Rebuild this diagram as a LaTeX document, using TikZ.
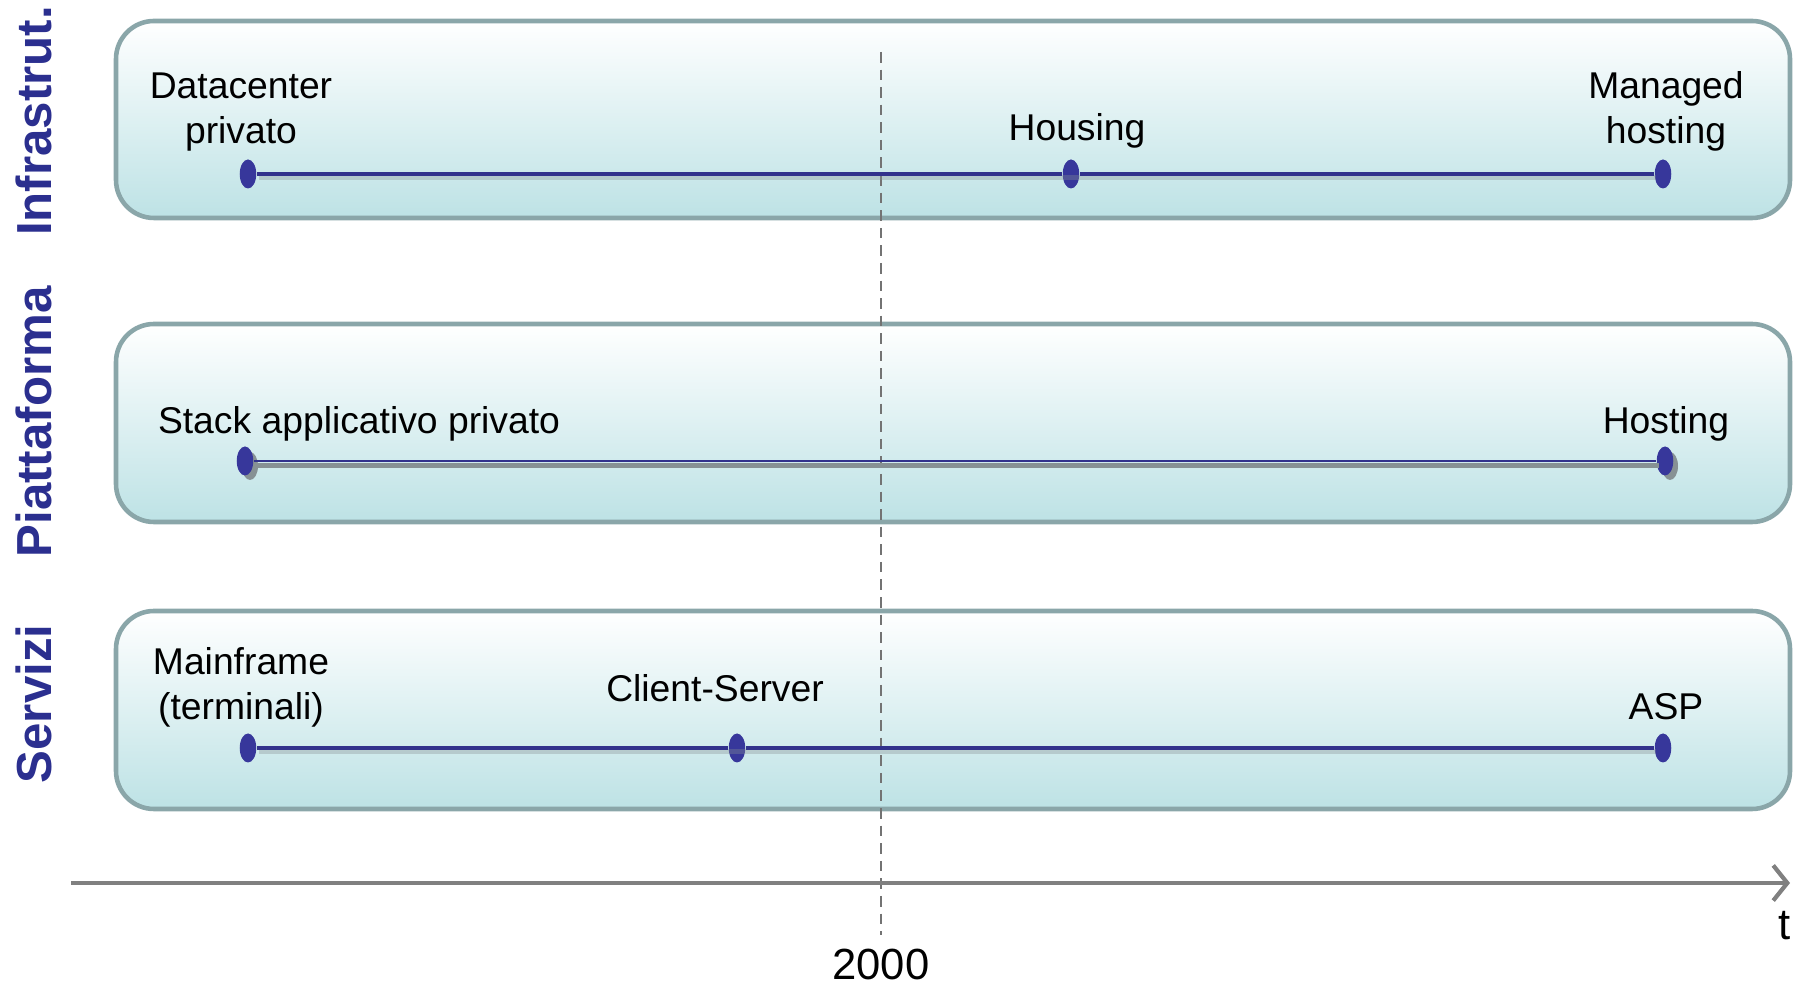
\documentclass[tikz,border=0pt]{standalone}
\usepackage{fontspec}
\setmainfont{Liberation Sans}
\usetikzlibrary{positioning,shapes.geometric,arrows.meta}

\definecolor{boxedge}{RGB}{138,166,169}
\definecolor{boxbot}{RGB}{189,226,229}
\definecolor{lineblue}{RGB}{50,50,140}
\definecolor{dotblue}{RGB}{55,55,155}
\definecolor{sideblue}{RGB}{43,47,143}
\definecolor{axisgray}{RGB}{128,128,128}
\definecolor{shadowgray}{RGB}{135,145,148}

\tikzset{
  layer/.style={draw=boxedge, line width=1.3pt, rounded corners=0.38cm,
    top color=white, bottom color=boxbot},
  dot/.style={ellipse, fill=dotblue, inner sep=0pt,
    minimum width=0.165cm, minimum height=0.29cm},
  tline/.style={draw=lineblue, line width=1.1pt},
  tshadow/.style={draw=shadowgray, line width=1.6pt, opacity=0.35},
  lbl/.style={font=\fontsize{10.6}{12.8}\selectfont, align=center, inner sep=0pt},
  axlbl/.style={font=\fontsize{12.4}{15}\selectfont, inner sep=0pt},
  side/.style={rotate=90, font=\fontsize{14}{16}\selectfont\bfseries,
    text=sideblue, inner sep=0pt},
}

\begin{document}
\begin{tikzpicture}[x=0.01cm, y=-0.01cm]
\useasboundingbox (0,0) rectangle (1802,986);

% the three layers
\path[layer] (116,21) rectangle (1790,218);
\path[layer] (116,324) rectangle (1790,522);
\path[layer] (116,611) rectangle (1790,809);

% side titles
\node[side] (infra) at (34,121) {Infrastrut.};
\node[side] (piatt) at (34,422) {Piattaforma};
\node[side] (serv) at (34,704) {Servizi};

% year 2000
\draw[axisgray!90!black, line width=0.5pt, dash pattern=on 3pt off 2pt] (881,52) -- (881,935);

% time axis
\coordinate (axs) at (71,883);
\coordinate (axe) at (1790,883);
\draw[axisgray, line width=1.4pt, -{Straight Barb[length=4pt,width=10pt,line width=1.2pt]}] (axs) -- (axe);
\node[axlbl] (tlab) at (1785,926) {t};
\node[axlbl] (year) at (881,964) {2000};

% Infrastruttura
\node[dot] (dc) at (248,174) {};
\node[dot] (hous) at (1071,174) {};
\node[dot] (mh) at (1663,174) {};
\draw[tshadow, transform canvas={xshift=0.02cm, yshift=-0.035cm}] (dc) -- (mh);
\draw[tline] (dc) -- (hous);
\draw[tline] (hous) -- (mh);
\node[lbl] (dclab) at (241,112) {Datacenter\\privato};
\node[lbl] (houslab) at (1077,131) {Housing};
\node[lbl] (mhlab) at (1666,111) {Managed\\hosting};

% Piattaforma
\fill[shadowgray] (250,466) ellipse [x radius=8, y radius=14];
\fill[shadowgray] (1670,466) ellipse [x radius=8, y radius=14];
\node[dot] (stk) at (245,461) {};
\node[dot] (host) at (1665,461) {};
\draw[draw=shadowgray, line width=1.5pt, transform canvas={xshift=0.03cm, yshift=-0.045cm}] (stk) -- (host);
\draw[tline, line width=0.8pt] (stk) -- (host);
\node[lbl] (stklab) at (359,424) {Stack applicativo privato};
\node[lbl] (hostlab) at (1666,424) {Hosting};

% Servizi
\node[dot] (mf) at (248,748) {};
\node[dot] (cs) at (737,748) {};
\node[dot] (asp) at (1663,748) {};
\draw[tshadow, transform canvas={xshift=0.02cm, yshift=-0.035cm}] (mf) -- (asp);
\draw[tline] (mf) -- (cs);
\draw[tline] (cs) -- (asp);
\node[lbl] (mflab) at (241,687) {Mainframe\\(terminali)};
\node[lbl] (cslab) at (715,688) {Client-Server};
\node[lbl] (asplab) at (1666,707) {ASP};
\end{tikzpicture}
\end{document}
